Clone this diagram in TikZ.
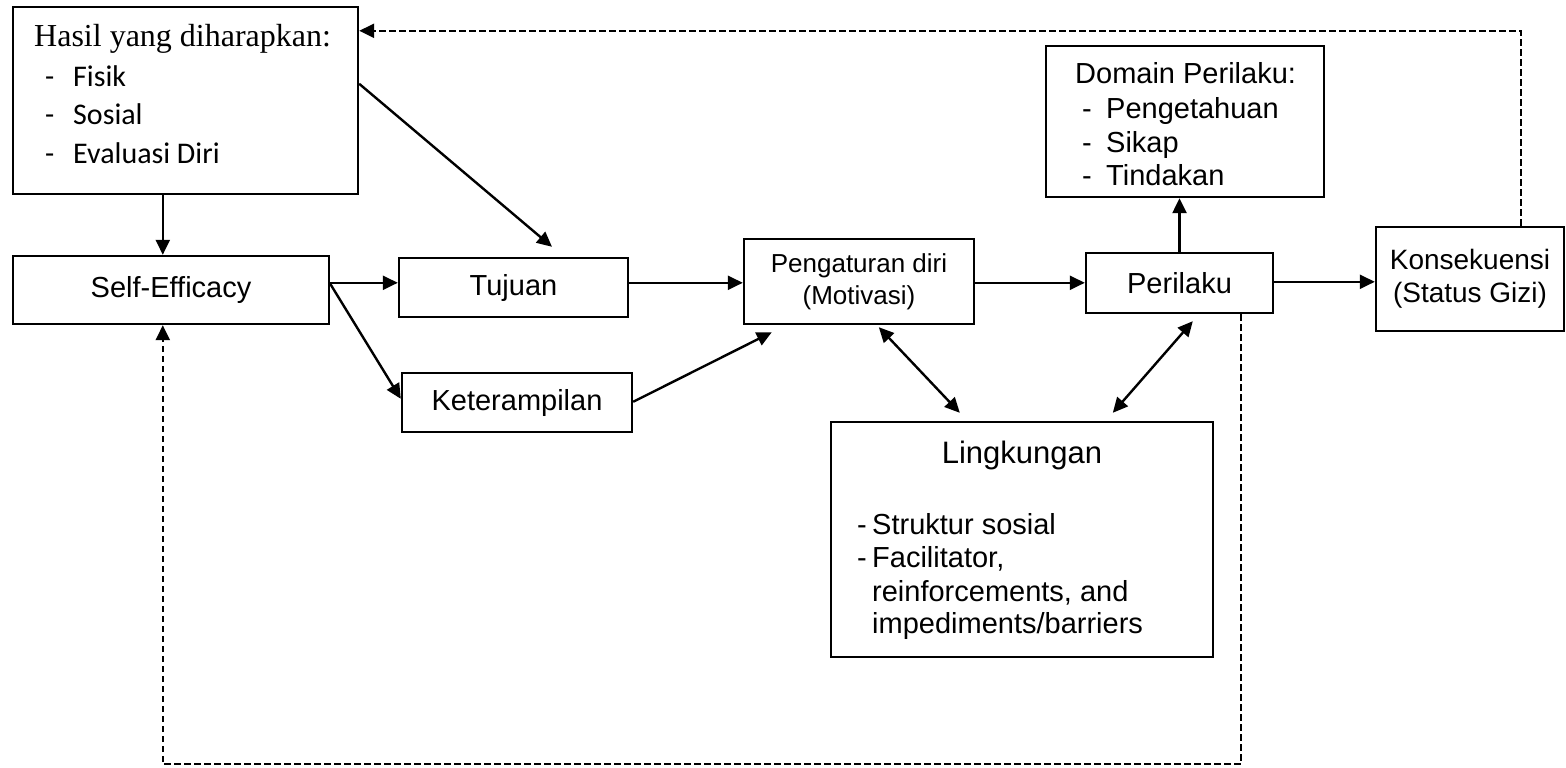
\documentclass[tikz,border=0pt]{standalone}
\usepackage{fontspec}
\setmainfont{Liberation Sans}
\newfontfamily\serifrm{Liberation Serif}
\newfontfamily\calib{Carlito}
\usetikzlibrary{arrows.meta,calc}

\begin{document}
\begin{tikzpicture}[x=1pt,y=-1pt,
  box/.style={draw, line width=2.4pt, rectangle, inner sep=0pt, align=center,
    font=\fontsize{29}{33}\selectfont},
  lbl/.style={anchor=base west, inner sep=0pt, font=\fontsize{29}{33}\selectfont},
  tip/.style={-{Triangle[length=15pt,width=14pt]}},
  link/.style={line width=2.4pt, tip},
  duo/.style={line width=2.4pt, {Triangle[length=15pt,width=14pt]}-{Triangle[length=15pt,width=14pt]}},
  back/.style={line width=2.4pt, dash pattern=on 6.5pt off 3.5pt, tip}]

\useasboundingbox (0,0) rectangle (1566,768);

% boxes
\node[box, minimum width=345pt, minimum height=187pt] (hasil) at (185.5,100.5) {};
\node[box, minimum width=316pt, minimum height=68pt] (self) at (171,290) {Self-Efficacy};
\node[box, minimum width=229pt, minimum height=59pt] (tujuan) at (513.5,287.5) {Tujuan};
\node[box, minimum width=230pt, minimum height=59pt] (ketr) at (517,402.5) {Keterampilan};
\node[box, minimum width=230pt, minimum height=85pt,
      font=\fontsize{26}{32}\selectfont] (peng) at (859,281.5) {Pengaturan diri\\(Motivasi)};
\node[box, minimum width=187pt, minimum height=60pt] (peril) at (1179.5,283) {Perilaku};
\node[box, minimum width=278pt, minimum height=151pt] (domain) at (1185,121.5) {};
\node[box, minimum width=188pt, minimum height=104pt,
      font=\fontsize{28}{33}\selectfont] (kons) at (1470,279) {Konsekuensi\\(Status Gizi)};
\node[box, minimum width=382pt, minimum height=235pt] (ling) at (1022,539.5) {};

% texts of the list boxes
\node[lbl, font=\serifrm\fontsize{32}{38}\selectfont] (hasilT) at (34,47) {Hasil yang diharapkan:};
\node[lbl, font=\calib\fontsize{30}{38}\selectfont] (hasilA) at (45,86) {\makebox[28pt][l]{-}Fisik};
\node[lbl, font=\calib\fontsize{30}{38}\selectfont] (hasilB) at (45,124) {\makebox[28pt][l]{-}Sosial};
\node[lbl, font=\calib\fontsize{30}{38}\selectfont] (hasilC) at (45,163) {\makebox[28pt][l]{-}Evaluasi Diri};

\node[lbl] (domainT) at (1075,84) {Domain Perilaku:};
\node[lbl] (domainA) at (1082,118) {\makebox[24pt][l]{-}Pengetahuan};
\node[lbl] (domainB) at (1082,152) {\makebox[24pt][l]{-}Sikap};
\node[lbl] (domainC) at (1082,185) {\makebox[24pt][l]{-}Tindakan};

\node[anchor=base, inner sep=0pt, font=\fontsize{31}{36}\selectfont] (lingT) at (1022,463) {Lingkungan};
\node[lbl] (lingA) at (857,534) {\makebox[15pt][l]{-}Struktur sosial};
\node[lbl] (lingB) at (857,567) {\makebox[15pt][l]{-}Facilitator,};
\node[lbl] (lingC) at (872,601) {reinforcements, and};
\node[lbl] (lingD) at (872,633) {impediments/barriers};

% solid connectors
\draw[link] ($(hasil.south west)+(151,0)$) -- ($(self.north west)+(151,0)$);
\draw[link] ($(hasil.north east)+(0,78)$) -- ($(tujuan.north)+(38.5,-10)$);
\draw[link] ($(self.north east)+(0,28)$) -- ($(tujuan.north west)+(0,26)$);
\draw[link] ($(self.north east)+(0,29)$) -- ($(ketr.north west)+(0,27)$);
\draw[link] ($(tujuan.north east)+(0,26)$) -- ($(peng.north west)+(0,45)$);
\draw[link] ($(ketr.north east)+(0,30)$) -- ($(peng.south west)+(29,7)$);
\draw[link] ($(peng.north east)+(0,45)$) -- ($(peril.north west)+(0,31)$);
\draw[link] (peril.north) -- (peril.north |- domain.south);
\draw[link] ($(peril.north east)+(0,30)$) -- ($(kons.north west)+(0,56)$);

% mutual influence with the environment
\draw[duo] ($(peng.south west)+(136,2)$) -- ($(ling.north west)+(130,-8)$);
\draw[duo] ($(peril.south west)+(108,7)$) -- ($(ling.north west)+(283,-8)$);

% feedback loops
\draw[back] ($(kons.north west)+(146,0)$) |- ($(hasil.north east)+(0,25)$);
\draw[back] ($(peril.south west)+(156,0)$) -- ++(0,450) -| ($(self.south west)+(151,0)$);
\end{tikzpicture}
\end{document}
